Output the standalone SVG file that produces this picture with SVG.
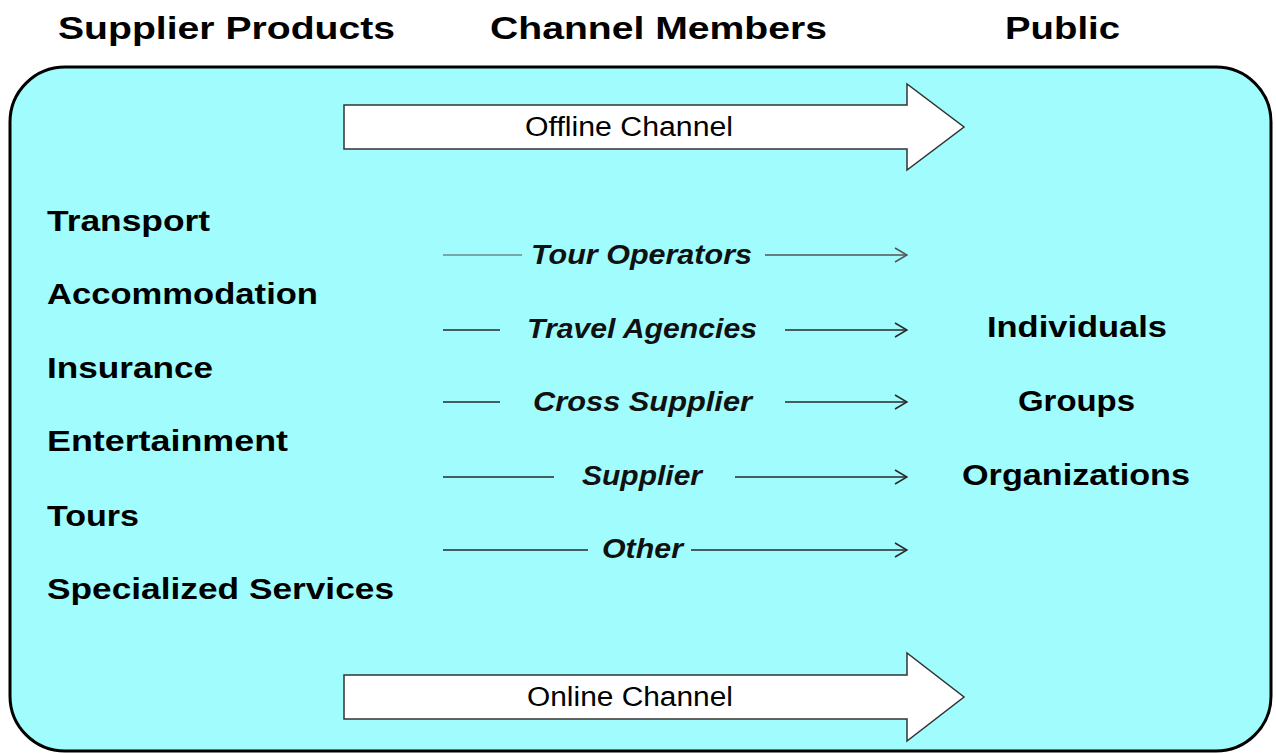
<svg xmlns="http://www.w3.org/2000/svg" width="1276" height="753" viewBox="0 0 1276 753">
<defs>
<style>
.hdr{font-family:"Liberation Sans",Arial,sans-serif;font-weight:bold;font-size:32px;fill:#000}
.lbl{font-family:"Liberation Sans",Arial,sans-serif;font-weight:bold;font-size:29px;fill:#000}
.mid{font-family:"Liberation Sans",Arial,sans-serif;font-weight:bold;font-style:italic;font-size:28px;fill:#111;text-anchor:start}
.ch{font-family:"Liberation Sans",Arial,sans-serif;font-size:27px;fill:#000}
.ln{stroke:#2a2a2a;stroke-width:1.6;fill:none}
.big{fill:#fff;stroke:#333;stroke-width:1.5}
</style>
<marker id="chev" viewBox="0 0 14 16" refX="13" refY="8" markerWidth="14" markerHeight="16" markerUnits="userSpaceOnUse" orient="auto">
<path d="M1,1 L13,8 L1,15" fill="none" stroke="#2a2a2a" stroke-width="1.6"/>
</marker>
<marker id="chevg" viewBox="0 0 14 16" refX="13" refY="8" markerWidth="14" markerHeight="16" markerUnits="userSpaceOnUse" orient="auto">
<path d="M1,1 L13,8 L1,15" fill="none" stroke="#555" stroke-width="1.6"/>
</marker>
</defs>
<rect width="1276" height="753" fill="#fff"/>

<g id="headers">
<text class="hdr" x="58" y="39" textLength="337" lengthAdjust="spacingAndGlyphs">Supplier Products</text>
<text class="hdr" x="490" y="39" textLength="337" lengthAdjust="spacingAndGlyphs">Channel Members</text>
<text class="hdr" x="1005" y="39" textLength="115" lengthAdjust="spacingAndGlyphs">Public</text>
</g>

<g id="container">
<rect x="10" y="67" width="1261" height="684" rx="55" ry="55" fill="#A0FCFD" stroke="#000" stroke-width="3"/>
</g>

<g id="offline-channel">
<path class="big" d="M344,105 L907,105 L907,84 L964,127 L907,170 L907,149 L344,149 Z"/>
<text class="ch" x="525" y="136" textLength="208" lengthAdjust="spacingAndGlyphs">Offline Channel</text>
</g>

<g id="online-channel">
<path class="big" d="M344,675 L907,675 L907,653 L964,697 L907,741 L907,719 L344,719 Z"/>
<text class="ch" x="527" y="706" textLength="206" lengthAdjust="spacingAndGlyphs">Online Channel</text>
</g>

<g id="supplier-products">
<text class="lbl" x="47" y="231" textLength="163" lengthAdjust="spacingAndGlyphs">Transport</text>
<text class="lbl" x="47" y="304" textLength="271" lengthAdjust="spacingAndGlyphs">Accommodation</text>
<text class="lbl" x="47" y="378" textLength="166" lengthAdjust="spacingAndGlyphs">Insurance</text>
<text class="lbl" x="47" y="451" textLength="241" lengthAdjust="spacingAndGlyphs">Entertainment</text>
<text class="lbl" x="47" y="526" textLength="92" lengthAdjust="spacingAndGlyphs">Tours</text>
<text class="lbl" x="47" y="599" textLength="347" lengthAdjust="spacingAndGlyphs">Specialized Services</text>
</g>

<g id="connectors">
<line x1="443" y1="255" x2="522" y2="255" stroke="#6a8a8a" stroke-width="1.6"/>
<line x1="765" y1="255" x2="907" y2="255" stroke="#555" stroke-width="1.6" marker-end="url(#chevg)"/>
<line class="ln" x1="443" y1="330" x2="500" y2="330"/>
<line class="ln" x1="785" y1="330" x2="907" y2="330" marker-end="url(#chev)"/>
<line class="ln" x1="443" y1="402" x2="500" y2="402"/>
<line class="ln" x1="785" y1="402" x2="907" y2="402" marker-end="url(#chev)"/>
<line class="ln" x1="443" y1="477" x2="554" y2="477"/>
<line class="ln" x1="735" y1="477" x2="907" y2="477" marker-end="url(#chev)"/>
<line class="ln" x1="443" y1="550" x2="588" y2="550"/>
<line class="ln" x1="691" y1="550" x2="907" y2="550" marker-end="url(#chev)"/>
</g>

<g id="channel-members">
<text class="mid" x="531" y="264" textLength="221" lengthAdjust="spacingAndGlyphs">Tour Operators</text>
<text class="mid" x="527" y="338" textLength="230" lengthAdjust="spacingAndGlyphs">Travel Agencies</text>
<text class="mid" x="533" y="411" textLength="219" lengthAdjust="spacingAndGlyphs">Cross Supplier</text>
<text class="mid" x="582" y="485" textLength="120" lengthAdjust="spacingAndGlyphs">Supplier</text>
<text class="mid" x="602" y="558" textLength="81" lengthAdjust="spacingAndGlyphs">Other</text>
</g>

<g id="public">
<text class="lbl" x="987" y="337" textLength="180" lengthAdjust="spacingAndGlyphs">Individuals</text>
<text class="lbl" x="1018" y="411" textLength="117" lengthAdjust="spacingAndGlyphs">Groups</text>
<text class="lbl" x="962" y="485" textLength="228" lengthAdjust="spacingAndGlyphs">Organizations</text>
</g>
</svg>
